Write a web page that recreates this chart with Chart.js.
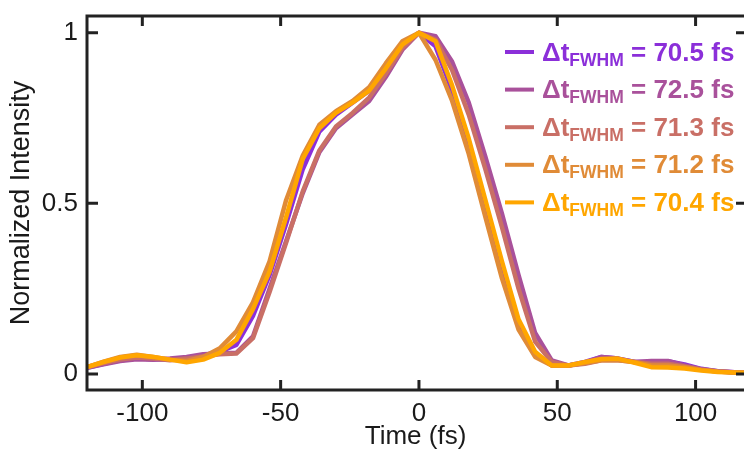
<!DOCTYPE html>
<html>
<head>
<meta charset="utf-8">
<script src="https://cdn.jsdelivr.net/npm/chart.js@4/dist/chart.umd.min.js"></script>
<style>
  body { margin: 0; background: #fff; }
  canvas { display: block; }
</style>
</head>
<body>
<canvas id="pulse-chart" width="744" height="450"></canvas>
<script>
// Eixo de tempo (fs)
const timeFs = [-120,-114,-108,-102,-96,-90,-84,-78,-72,-66,-60,-54,-48,-42,-36,-30,-24,-18,-12,-6,
                0,6,12,18,24,30,36,42,48,54,60,66,72,78,84,90,96,102,108,114,120];

// Intensidade normalizada de cada medida
const pulse705 = [0.018,0.03,0.04,0.045,0.043,0.042,0.047,0.055,0.065,0.085,0.17,0.29,0.44,0.6,0.71,0.76,0.795,0.83,0.895,0.965,
                  1,0.96,0.83,0.67,0.49,0.31,0.145,0.058,0.025,0.025,0.035,0.05,0.045,0.035,0.035,0.037,0.028,0.015,0.008,0.005,0.003];
const pulse725 = [0.018,0.028,0.038,0.043,0.042,0.045,0.05,0.058,0.06,0.062,0.11,0.25,0.39,0.53,0.65,0.72,0.76,0.80,0.87,0.95,
                  1,0.99,0.915,0.795,0.637,0.47,0.29,0.12,0.04,0.025,0.033,0.05,0.045,0.035,0.038,0.038,0.025,0.014,0.008,0.005,0.003];
const pulse713 = [0.02,0.032,0.042,0.048,0.045,0.04,0.045,0.052,0.058,0.06,0.105,0.24,0.385,0.535,0.655,0.725,0.765,0.81,0.88,0.955,
                  1,0.98,0.89,0.76,0.6,0.43,0.25,0.095,0.035,0.025,0.03,0.04,0.04,0.035,0.03,0.03,0.022,0.013,0.007,0.004,0.003];
const pulse712 = [0.02,0.036,0.05,0.056,0.05,0.042,0.038,0.05,0.075,0.125,0.21,0.33,0.51,0.64,0.73,0.77,0.80,0.84,0.91,0.975,
                  1,0.92,0.80,0.645,0.46,0.28,0.13,0.05,0.025,0.025,0.032,0.04,0.04,0.035,0.025,0.025,0.02,0.012,0.007,0.004,0.003];
const pulse704 = [0.02,0.035,0.048,0.055,0.05,0.042,0.034,0.042,0.062,0.10,0.19,0.30,0.46,0.63,0.72,0.765,0.795,0.83,0.895,0.965,
                  1,0.975,0.845,0.69,0.51,0.33,0.16,0.065,0.025,0.025,0.035,0.044,0.045,0.033,0.02,0.019,0.016,0.01,0.006,0.004,0.003];

// Legenda: valor da largura (fs)
const fwhmValues = ['70.5', '72.5', '71.3', '71.2', '70.4'];
const seriesColors = ['#8b2fd9', '#a9519b', '#c96f66', '#e08b37', '#ffa600'];
const seriesData = [pulse705, pulse725, pulse713, pulse712, pulse704];

const xTicks = [-100, -50, 0, 50, 100];
const yTicks = [0, 0.5, 1];

const AXIS_COLOR = '#222';
const FONT = '"Liberation Sans", Arial, sans-serif';

// Moldura e marcas para dentro
const framePlugin = {
    id: 'frame',
    afterDatasetsDraw(chart) {
        const {ctx, chartArea: a, scales: {x, y}} = chart;
        ctx.save();
        ctx.strokeStyle = AXIS_COLOR;
        ctx.lineWidth = 3;
        ctx.lineCap = 'butt';
        ctx.beginPath();
        ctx.moveTo(a.left, a.bottom); ctx.lineTo(chart.width, a.bottom);
        ctx.moveTo(a.left, a.top); ctx.lineTo(chart.width, a.top);
        ctx.moveTo(a.left, a.top - 1.5); ctx.lineTo(a.left, a.bottom + 1.5);
        xTicks.forEach(v => {
            const px = x.getPixelForValue(v);
            ctx.moveTo(px, a.bottom); ctx.lineTo(px, a.bottom - 10);
            ctx.moveTo(px, a.top); ctx.lineTo(px, a.top + 10);
        });
        yTicks.forEach(v => {
            const py = y.getPixelForValue(v);
            ctx.moveTo(a.left, py); ctx.lineTo(a.left + 11, py);
            ctx.moveTo(chart.width, py); ctx.lineTo(chart.width - 8, py);
        });
        ctx.stroke();
        ctx.restore();
    },
    afterDraw(chart) {
        // Legenda com subscrito
        const ctx = chart.ctx;
        ctx.save();
        ctx.textBaseline = 'alphabetic';
        fwhmValues.forEach((val, i) => {
            const cy = 52 + i * 37.6;
            ctx.strokeStyle = seriesColors[i];
            ctx.fillStyle = seriesColors[i];
            ctx.lineWidth = 4;
            ctx.beginPath();
            ctx.moveTo(505, cy); ctx.lineTo(534, cy);
            ctx.stroke();
            let tx = 542;
            const base = cy + 8.5;
            ctx.font = 'bold 26px ' + FONT;
            ctx.fillText('\u0394t', tx, base);
            tx += ctx.measureText('\u0394t').width;
            ctx.font = 'bold 17.5px ' + FONT;
            ctx.fillText('FWHM', tx, base + 5);
            tx += ctx.measureText('FWHM').width;
            ctx.font = 'bold 26px ' + FONT;
            ctx.fillText(' = ' + val + ' fs', tx, base);
        });
        ctx.restore();
    }
};

const datasets = seriesData.map((d, i) => ({
    label: fwhmValues[i],
    data: d.map((v, k) => ({x: timeFs[k], y: v})),
    borderColor: seriesColors[i],
    borderWidth: 4.5,
    pointRadius: 0,
    tension: 0,
    borderJoinStyle: 'round',
    order: seriesData.length - i
}));

new Chart(document.getElementById('pulse-chart'), {
    type: 'line',
    data: { datasets },
    options: {
        responsive: false,
        animation: false,
        layout: { padding: { top: 16, right: 0, left: 0, bottom: 0 } },
        plugins: { legend: { display: false }, tooltip: { enabled: false } },
        scales: {
            x: {
                type: 'linear',
                min: -120,
                max: 117.5,
                grid: { display: false, drawTicks: false },
                border: { display: false },
                afterBuildTicks: s => { s.ticks = xTicks.map(v => ({value: v})); },
                afterFit: s => { s.height = 60; s.paddingLeft = 0; s.paddingRight = 0; },
                ticks: { color: '#1a1a1a', padding: 8, font: { family: FONT, size: 26 }, maxRotation: 0 },
                title: { display: true, text: 'Time (fs)', color: '#1a1a1a', padding: 0,
                         font: { family: FONT, size: 26, lineHeight: 1 } }
            },
            y: {
                min: -0.047,
                max: 1.049,
                grid: { display: false, drawTicks: false },
                border: { display: false },
                afterBuildTicks: s => { s.ticks = yTicks.map(v => ({value: v})); },
                afterFit: s => { s.width = 87; s.paddingTop = 0; s.paddingBottom = 0; },
                ticks: { color: '#1a1a1a', padding: 9, font: { family: FONT, size: 26 },
                         callback: v => String(v) },
                title: { display: true, text: 'Normalized Intensity', color: '#1a1a1a', padding: { top: 8 },
                         font: { family: FONT, size: 27, lineHeight: 1 } }
            }
        }
    },
    plugins: [framePlugin]
});
</script>
</body>
</html>
